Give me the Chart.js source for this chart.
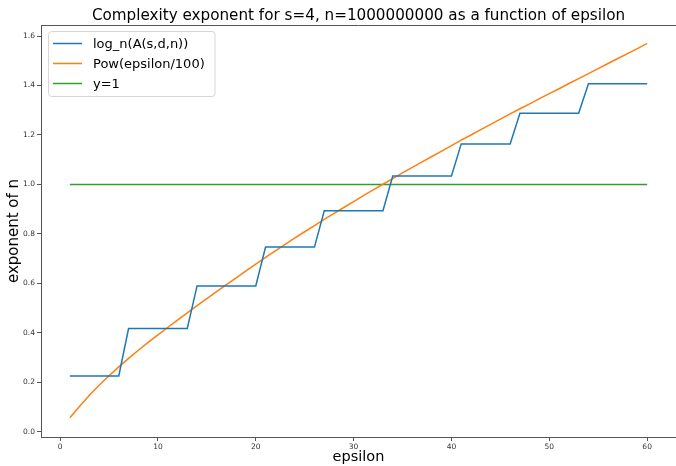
<!DOCTYPE html>
<html>
<head>
<meta charset="utf-8">
<script src="https://cdn.jsdelivr.net/npm/chart.js@4.4.0/dist/chart.umd.min.js"></script>
<style>
  html, body { margin: 0; padding: 0; background: #ffffff; }
  #wrap { width: 676px; height: 466px; position: relative; }
</style>
</head>
<body>
<div id="wrap"><canvas id="c" width="676" height="466"></canvas></div>
<script>
const titleText = "Complexity exponent for s=4, n=1000000000 as a function of epsilon";
const xLabel = "epsilon";
const yLabel = "exponent of n";
const seriesNames = ["log_n(A(s,d,n))", "Pow(epsilon/100)", "y=1"];

const epsilon = [1,2,3,4,5,6,7,8,9,10,11,12,13,14,15,16,17,18,19,20,
  21,22,23,24,25,26,27,28,29,30,31,32,33,34,35,36,37,38,39,40,
  41,42,43,44,45,46,47,48,49,50,51,52,53,54,55,56,57,58,59,60];

const logA = [0.226,0.226,0.226,0.226,0.226,0.226,
  0.418,0.418,0.418,0.418,0.418,0.418,0.418,
  0.590,0.590,0.590,0.590,0.590,0.590,0.590,
  0.747,0.747,0.747,0.747,0.747,0.747,
  0.894,0.894,0.894,0.894,0.894,0.894,0.894,
  1.034,1.034,1.034,1.034,1.034,1.034,1.034,
  1.164,1.164,1.164,1.164,1.164,1.164,
  1.288,1.288,1.288,1.288,1.288,1.288,1.288,
  1.407,1.407,1.407,1.407,1.407,1.407,1.407];

const powEps = [0.057,0.104,0.148,0.189,0.227,0.263,0.297,0.330,0.362,0.392,
  0.422,0.452,0.481,0.510,0.539,0.567,0.595,0.623,0.651,0.678,
  0.705,0.732,0.758,0.784,0.809,0.834,0.859,0.883,0.907,0.931,
  0.955,0.978,1.001,1.024,1.047,1.069,1.091,1.113,1.135,1.157,
  1.179,1.200,1.222,1.243,1.264,1.285,1.306,1.326,1.347,1.367,
  1.387,1.408,1.428,1.448,1.468,1.489,1.509,1.529,1.549,1.570];

const yOne = [1,1,1,1,1,1,1,1,1,1,1,1,1,1,1,1,1,1,1,1,
  1,1,1,1,1,1,1,1,1,1,1,1,1,1,1,1,1,1,1,1,
  1,1,1,1,1,1,1,1,1,1,1,1,1,1,1,1,1,1,1,1];

const xTicks = [0,10,20,30,40,50,60];
const yTicks = [0.0,0.2,0.4,0.6,0.8,1.0,1.2,1.4,1.6];
const colors = ["#1f77b4", "#ff7f0e", "#2ca02c"];

const FONT = "'DejaVu Sans', sans-serif";
const pts = (ys) => epsilon.map((x, i) => ({ x: x, y: ys[i] }));

const framePlugin = {
  id: 'frame',
  afterDraw(chart) {
    const { ctx, chartArea: a } = chart;
    ctx.save();
    // top spine
    ctx.strokeStyle = '#555';
    ctx.lineWidth = 1;
    ctx.beginPath();
    ctx.moveTo(a.left, Math.round(a.top) + 0.5);
    ctx.lineTo(a.right, Math.round(a.top) + 0.5);
    ctx.stroke();
    // title
    ctx.fillStyle = '#000';
    ctx.font = "15.2px " + FONT;
    ctx.textAlign = 'center';
    ctx.textBaseline = 'alphabetic';
    ctx.fillText(titleText, (a.left + a.right) / 2, 20);
    // legend
    const bx = 48.5, by = 31.5, bw = 166.5, bh = 65;
    ctx.fillStyle = 'rgba(255,255,255,0.8)';
    ctx.strokeStyle = '#d6d6d6';
    ctx.lineWidth = 1;
    ctx.beginPath();
    if (ctx.roundRect) ctx.roundRect(bx, by, bw, bh, 3); else ctx.rect(bx, by, bw, bh);
    ctx.fill();
    ctx.stroke();
    ctx.font = "13px " + FONT;
    ctx.textAlign = 'left';
    ctx.textBaseline = 'middle';
    const rows = [43.5, 63.5, 83.5];
    seriesNames.forEach((name, i) => {
      ctx.strokeStyle = colors[i];
      ctx.lineWidth = 1.5;
      ctx.beginPath();
      ctx.moveTo(53, rows[i]);
      ctx.lineTo(82, rows[i]);
      ctx.stroke();
      ctx.fillStyle = '#000';
      ctx.fillText(name, 93, rows[i] + 1);
    });
    ctx.restore();
  }
};

new Chart(document.getElementById('c'), {
  type: 'line',
  data: {
    datasets: [
      { label: seriesNames[0], data: pts(logA), borderColor: colors[0], borderWidth: 1.5, pointRadius: 0, tension: 0, fill: false },
      { label: seriesNames[1], data: pts(powEps), borderColor: colors[1], borderWidth: 1.5, pointRadius: 0, tension: 0, fill: false },
      { label: seriesNames[2], data: pts(yOne), borderColor: colors[2], borderWidth: 1.5, pointRadius: 0, tension: 0, fill: false }
    ]
  },
  options: {
    responsive: false,
    animation: false,
    events: [],
    layout: { padding: { top: 25, right: 0, left: 0, bottom: 0 } },
    plugins: { legend: { display: false }, title: { display: false }, tooltip: { enabled: false } },
    scales: {
      x: {
        type: 'linear',
        min: -1.95, max: 62.95,
        afterBuildTicks: (s) => { s.ticks = xTicks.map(v => ({ value: v })); },
        afterFit: (s) => { s.height = 29; },
        ticks: { font: { family: FONT, size: 7.5 }, color: '#333', padding: 2, maxRotation: 0,
                 callback: (v) => String(v) },
        grid: { drawOnChartArea: false, drawTicks: true, tickLength: 4, color: '#555' },
        border: { display: true, color: '#555', width: 1 },
        title: { display: true, text: xLabel, font: { family: FONT, size: 14.5 }, color: '#000', padding: { top: 0, bottom: 0 } }
      },
      y: {
        type: 'linear',
        min: -0.0205, max: 1.6445,
        afterBuildTicks: (s) => { s.ticks = yTicks.map(v => ({ value: v })); },
        afterFit: (s) => { s.width = 41; },
        ticks: { font: { family: FONT, size: 7.5 }, color: '#333', padding: 2,
                 callback: (v) => Number(v).toFixed(1) },
        grid: { drawOnChartArea: false, drawTicks: true, tickLength: 4, color: '#555' },
        border: { display: true, color: '#555', width: 1 },
        title: { display: true, text: yLabel, font: { family: FONT, size: 15 }, color: '#000', padding: { top: 5, bottom: 0 } }
      }
    }
  },
  plugins: [framePlugin]
});
</script>
</body>
</html>
